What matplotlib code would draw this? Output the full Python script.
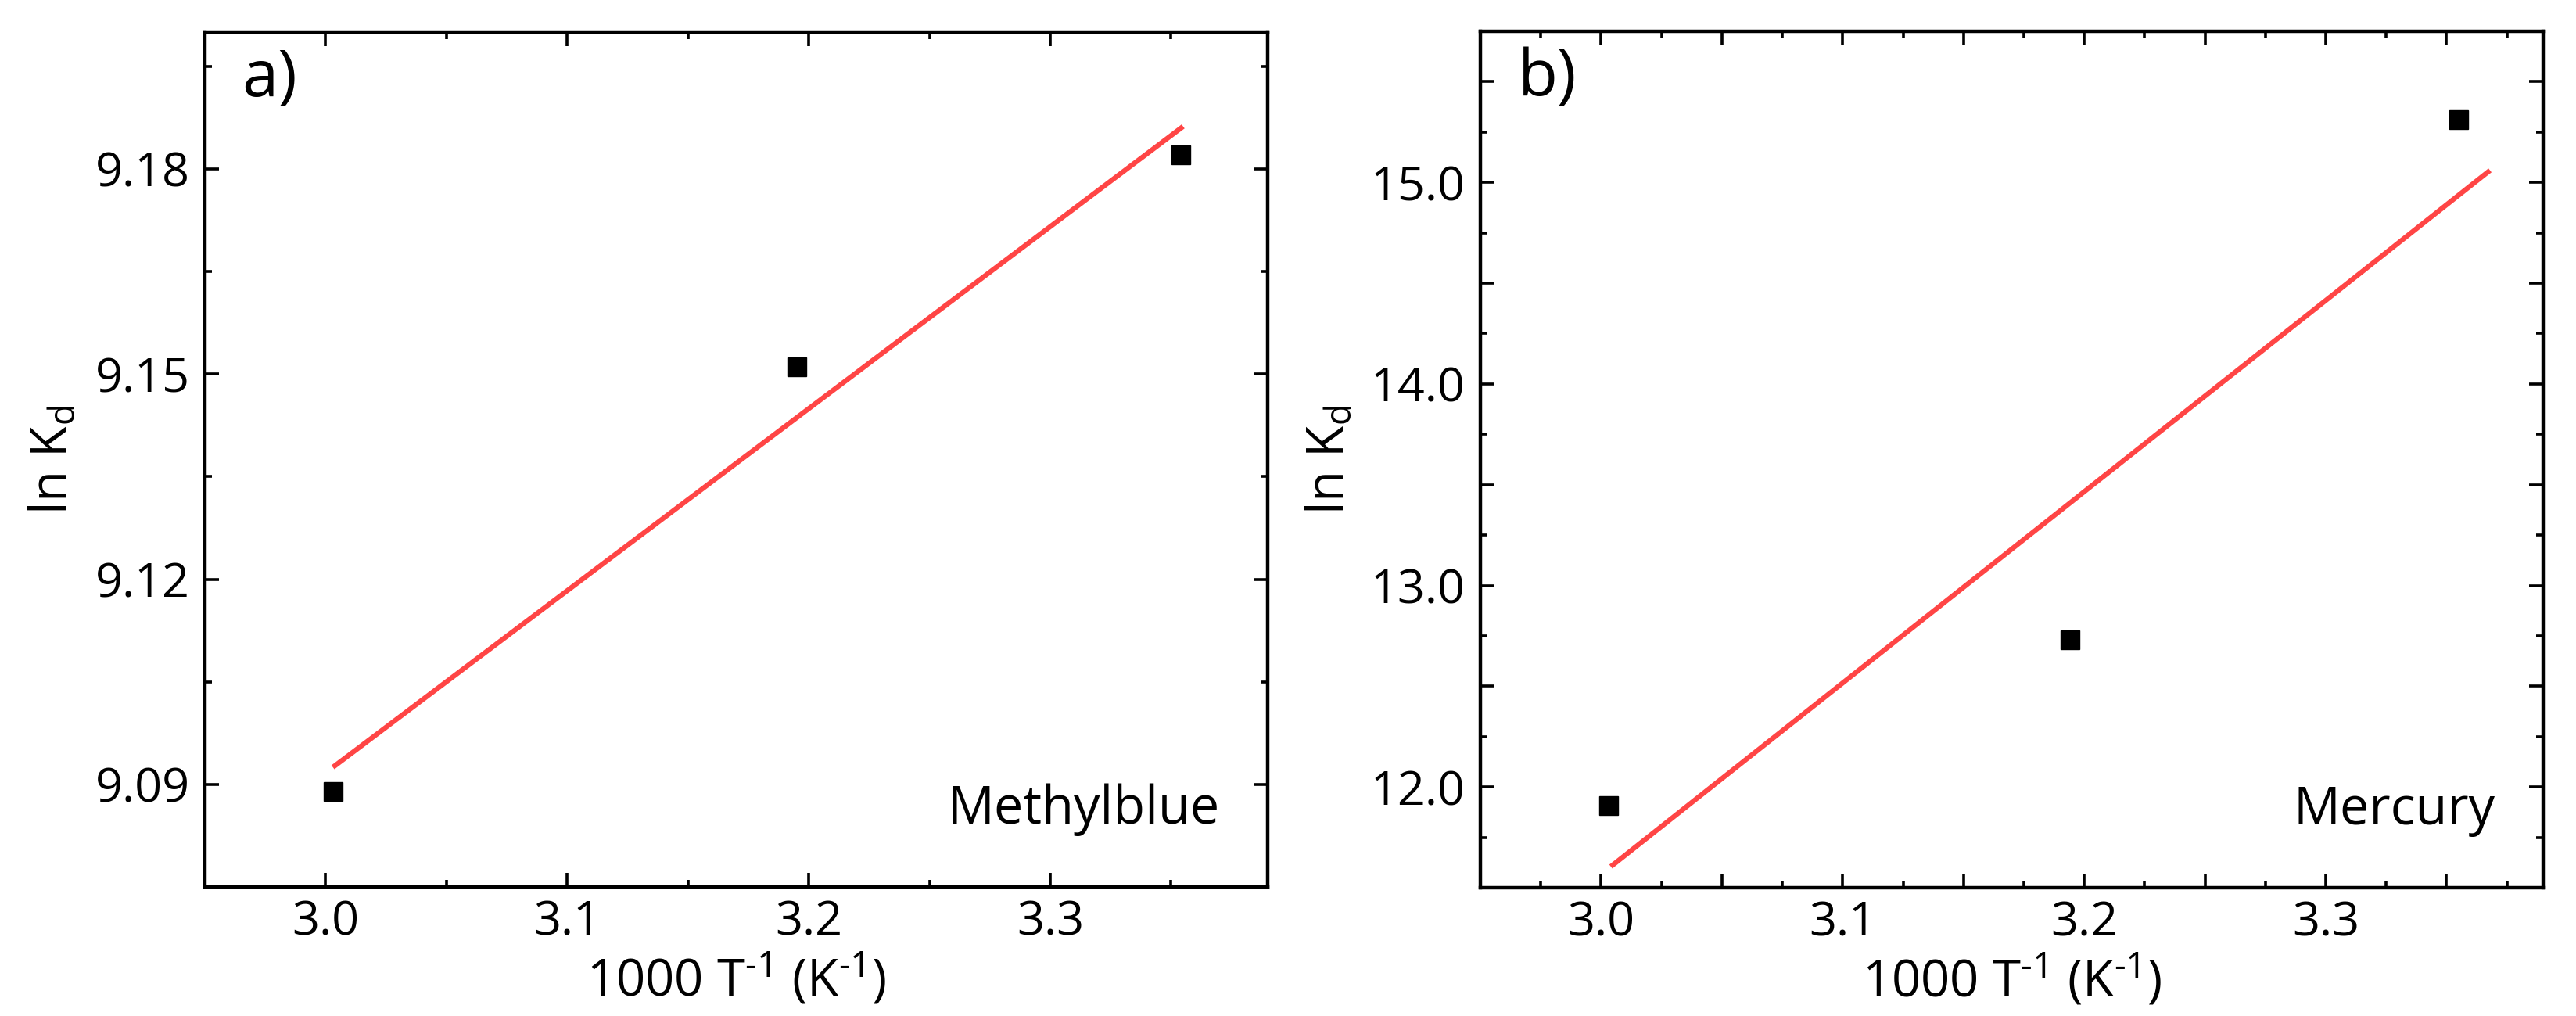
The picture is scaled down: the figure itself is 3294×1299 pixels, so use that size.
import matplotlib
matplotlib.use("Agg")
import matplotlib.pyplot as plt
from matplotlib.ticker import MultipleLocator, FuncFormatter

# ---------------- data ----------------
inv_T_a = [3.003, 3.195, 3.354]
lnKd_a = [9.089, 9.151, 9.182]
fit_x_a = [3.003, 3.355]
fit_y_a = [9.0925, 9.1862]

inv_T_b = [3.003, 3.194, 3.355]
lnKd_b = [11.907, 12.73, 15.31]
fit_x_b = [3.004, 3.368]
fit_y_b = [11.605, 15.06]

panel_labels = ["a)", "b)"]
species = ["Methylblue", "Mercury"]
xlabel = r"1000 T$^{\text{-}1}$ (K$^{\text{-}1}$)"
ylabel = r"ln K$_{\mathrm{d}}$"

# ---------------- style ----------------
plt.rcParams["font.family"] = ["Open Sans", "DejaVu Sans"]
plt.rcParams["mathtext.fontset"] = "custom"
plt.rcParams["mathtext.rm"] = "Open Sans"
plt.rcParams["mathtext.it"] = "Open Sans:italic"
plt.rcParams["mathtext.bf"] = "Open Sans:bold"

W, H = 3294, 1299
DPI = 100
fig = plt.figure(figsize=(W / DPI, H / DPI), dpi=DPI)

def frac_axes(l, t, r, b):
    return fig.add_axes([l / W, 1 - b / H, (r - l) / W, (b - t) / H])

ax_a = frac_axes(262, 41, 1621, 1134)
ax_b = frac_axes(1893, 40, 3252, 1135)

RED = "#FF4545"
TICK_FS = 44
LABEL_FS = 47

def style(ax):
    for s in ax.spines.values():
        s.set_linewidth(3.2)
    ax.tick_params(which="both", direction="in", top=True, right=True,
                   width=2.6, labelsize=TICK_FS)
    ax.tick_params(which="major", length=13)
    ax.tick_params(which="minor", length=6.5)
    ax.tick_params(axis="y", which="both", pad=14)
    ax.tick_params(axis="x", which="both", pad=11)
    ax.set_xlim(2.95, 3.39)
    ax.set_xlabel(xlabel, fontsize=LABEL_FS, labelpad=6)
    ax.set_ylabel(ylabel, fontsize=LABEL_FS, labelpad=14)

# panel a
ax_a.plot(fit_x_a, fit_y_a, color=RED, lw=4.6, solid_capstyle="butt", zorder=2)
ax_a.plot(inv_T_a, lnKd_a, ls="none", marker="s", ms=17, color="black", zorder=3)
style(ax_a)
ax_a.set_ylim(9.075, 9.2)
ax_a.xaxis.set_major_locator(MultipleLocator(0.1))
ax_a.xaxis.set_minor_locator(MultipleLocator(0.05))
ax_a.xaxis.set_major_formatter(FuncFormatter(lambda v, p: f"{v:.1f}"))
ax_a.yaxis.set_major_locator(MultipleLocator(0.03))
ax_a.yaxis.set_minor_locator(MultipleLocator(0.015))
ax_a.yaxis.set_major_formatter(FuncFormatter(lambda v, p: f"{v:.2f}"))

# panel b
ax_b.plot(fit_x_b, fit_y_b, color=RED, lw=4.6, solid_capstyle="butt", zorder=2)
ax_b.plot(inv_T_b, lnKd_b, ls="none", marker="s", ms=17, color="black", zorder=3)
style(ax_b)
ax_b.set_ylim(11.5, 15.75)
ax_b.xaxis.set_major_locator(MultipleLocator(0.05))
ax_b.xaxis.set_minor_locator(MultipleLocator(0.025))
ax_b.xaxis.set_major_formatter(
    FuncFormatter(lambda v, p: f"{v:.1f}" if abs(v * 10 - round(v * 10)) < 1e-6 else ""))
ax_b.yaxis.set_major_locator(MultipleLocator(0.5))
ax_b.yaxis.set_minor_locator(MultipleLocator(0.25))
ax_b.yaxis.set_major_formatter(
    FuncFormatter(lambda v, p: f"{v:.1f}" if abs(v - round(v)) < 1e-6 else ""))

for ax, lab, sp in zip([ax_a, ax_b], panel_labels, species):
    ax.text(0.035, 0.925, lab, transform=ax.transAxes, fontsize=60,
            ha="left", va="baseline")
    ax.text(0.955, 0.074, sp, transform=ax.transAxes, fontsize=48,
            ha="right", va="baseline")

fig.savefig("out.png", dpi=DPI)
